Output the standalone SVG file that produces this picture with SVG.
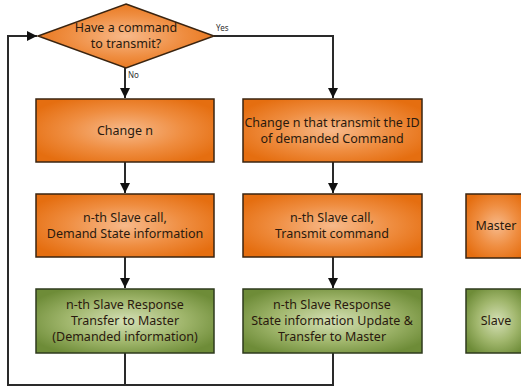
<svg xmlns="http://www.w3.org/2000/svg" width="521" height="387" viewBox="0 0 521 387">
<style>
.txt{font-family:"Noto Sans","Open Sans","DejaVu Sans",sans-serif;font-size:12.5px;fill:#2a1a0e;text-anchor:middle}
.lbl{font-family:"Noto Sans","DejaVu Sans",sans-serif;font-size:8px;fill:#333}
.or{fill:url(#gOr);stroke:#3a2410;stroke-width:1.5}
.gr{fill:url(#gGr);stroke:#2e3a1c;stroke-width:1.5}
.conn{fill:none;stroke:#2a2a2a;stroke-width:2}
</style>
<defs>
<radialGradient id="gOr" cx="50%" cy="50%" r="60%">
<stop offset="0" stop-color="#F7B98A"/>
<stop offset="0.55" stop-color="#EF8D40"/>
<stop offset="1" stop-color="#E56E10"/>
</radialGradient>
<radialGradient id="gGr" cx="50%" cy="50%" r="60%">
<stop offset="0" stop-color="#D5E0B6"/>
<stop offset="0.55" stop-color="#A0B66C"/>
<stop offset="1" stop-color="#6E8C38"/>
</radialGradient>
<marker id="arr" viewBox="0 0 10 10" refX="10" refY="5" markerWidth="5" markerHeight="5" orient="auto" markerUnits="strokeWidth">
<path d="M0,0 L10,5 L0,10 z" fill="#111"/>
</marker>
</defs>
<g id="connectors">
<path class="conn" d="M125,68 V98" marker-end="url(#arr)"/>
<path class="conn" d="M214,36 H333 V98" marker-end="url(#arr)"/>
<path class="conn" d="M125,162 V193" marker-end="url(#arr)"/>
<path class="conn" d="M333,162 V193" marker-end="url(#arr)"/>
<path class="conn" d="M125,257 V288" marker-end="url(#arr)"/>
<path class="conn" d="M333,257 V288" marker-end="url(#arr)"/>
<path class="conn" d="M125,353 V385"/>
<path class="conn" d="M333,353 V385 H8 V36 H37" marker-end="url(#arr)"/>
<text class="lbl" x="216" y="31">Yes</text>
<text class="lbl" x="128" y="78">No</text>
</g>
<g id="decision">
<polygon class="or" points="126,4 214,36 126,68 38,36"/>
<text class="txt" x="126" y="32">Have a command</text>
<text class="txt" x="126" y="48">to transmit?</text>
</g>
<g id="change-n">
<rect class="or" x="36" y="99" width="178" height="63"/>
<text class="txt" x="125" y="135">Change n</text>
</g>
<g id="change-n-id">
<rect class="or" x="243" y="99" width="179" height="63"/>
<text class="txt" x="332" y="127">Change n that transmit the ID</text>
<text class="txt" x="332" y="143">of demanded Command</text>
</g>
<g id="slave-call-demand">
<rect class="or" x="36" y="194" width="178" height="63"/>
<text class="txt" x="125" y="222">n-th Slave call,</text>
<text class="txt" x="125" y="238">Demand State information</text>
</g>
<g id="slave-call-transmit">
<rect class="or" x="243" y="194" width="179" height="63"/>
<text class="txt" x="332" y="222">n-th Slave call,</text>
<text class="txt" x="332" y="238">Transmit command</text>
</g>
<g id="slave-response-demand">
<rect class="gr" x="36" y="289" width="178" height="64"/>
<text class="txt" x="125" y="309">n-th Slave Response</text>
<text class="txt" x="125" y="325">Transfer to Master</text>
<text class="txt" x="125" y="341">(Demanded information)</text>
</g>
<g id="slave-response-update">
<rect class="gr" x="243" y="289" width="179" height="64"/>
<text class="txt" x="332" y="309">n-th Slave Response</text>
<text class="txt" x="332" y="325">State information Update &amp;</text>
<text class="txt" x="332" y="341">Transfer to Master</text>
</g>
<g id="legend-master">
<rect class="or" x="466" y="194" width="62" height="64"/>
<text class="txt" x="496" y="230">Master</text>
</g>
<g id="legend-slave">
<rect class="gr" x="466" y="289" width="62" height="64"/>
<text class="txt" x="496" y="325">Slave</text>
</g>
</svg>
